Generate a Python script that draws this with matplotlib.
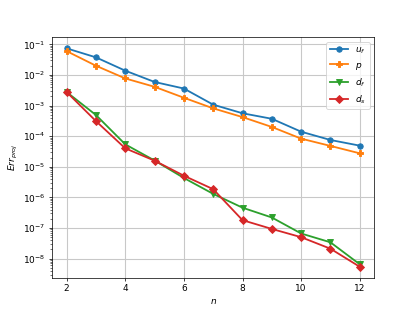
import matplotlib
matplotlib.use("Agg")
import matplotlib.pyplot as plt

n = [2, 3, 4, 5, 6, 7, 8, 9, 10, 11, 12]

u_f = [0.074, 0.0376, 0.0138, 0.0059, 0.0036, 0.00107, 5.6e-4, 3.7e-4, 1.4e-4, 7.5e-5, 4.9e-5]
p = [0.060, 0.020, 0.0077, 0.0041, 0.0018, 8.1e-4, 4.2e-4, 2.0e-4, 8.3e-5, 4.8e-5, 2.75e-5]
d_f = [0.00276, 4.9e-4, 5.4e-5, 1.6e-5, 4.3e-6, 1.3e-6, 4.6e-7, 2.2e-7, 6.6e-8, 3.4e-8, 6.5e-9]
d_s = [0.00276, 3.1e-4, 4.0e-5, 1.58e-5, 5.1e-6, 1.85e-6, 1.8e-7, 9.3e-8, 5.0e-8, 2.1e-8, 5.4e-9]

fig, ax = plt.subplots(figsize=(6.4, 4.8), dpi=65)
ax.semilogy(n, u_f, marker="o", lw=2, label="$u_f$")
ax.semilogy(n, p, marker="P", lw=2, label="$p$")
ax.semilogy(n, d_f, marker="v", lw=2, label="$d_f$")
ax.semilogy(n, d_s, marker="D", lw=2, label="$d_s$")
ax.set_xlabel("$n$")
ax.set_ylabel("$Err_{proj}$")
ax.grid(True, color="#c8c8c8", lw=1.2)
ax.legend()
fig.savefig("out.png", dpi=65)
